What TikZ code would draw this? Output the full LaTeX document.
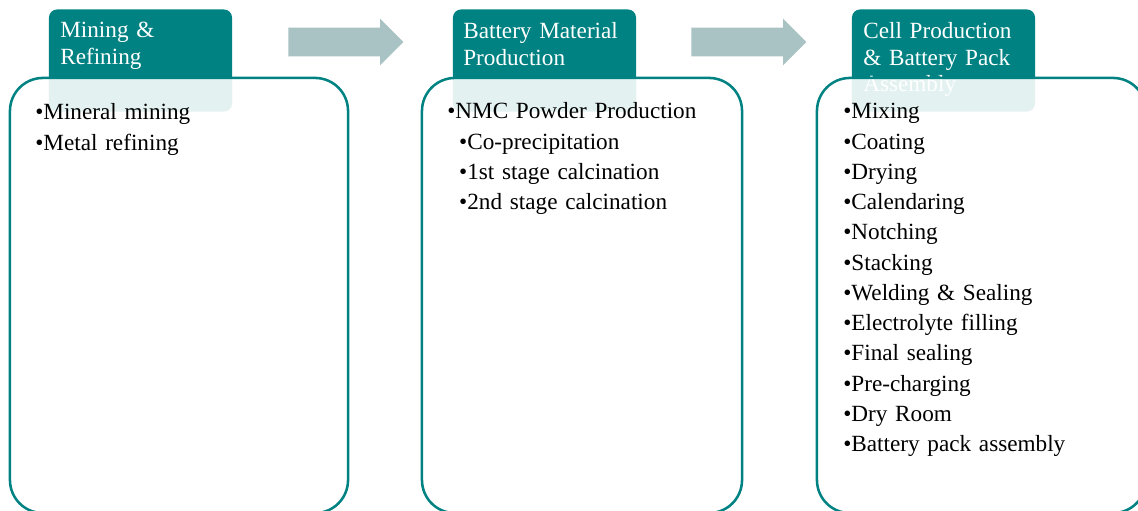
\documentclass[tikz,border=0pt]{standalone}
\usepackage{fontspec}
\setmainfont{Liberation Serif}
\usetikzlibrary{shapes.arrows}
\definecolor{stageD}{HTML}{008282}
\definecolor{flowC}{HTML}{A9C2C3}
\tikzset{
  tab/.style={rectangle, rounded corners=0.2cm, fill=stageD, minimum width=4.575cm, minimum height=2.55cm, inner sep=0pt},
  tabtxt/.style={anchor=base west, text width=4.2cm, align=left, inner sep=0pt, text=white,
                 font=\fontsize{16.5}{18.5}\selectfont},
  panel/.style={rectangle, rounded corners=0.825cm, draw=stageD, line width=1.8pt, fill=white,
                fill opacity=0.89, draw opacity=1, minimum height=10.875cm, inner sep=0pt},
  steps/.style={anchor=base west, text width=7.5cm, align=left, inner sep=0pt,
                font=\fontsize{16.5}{21.5}\selectfont},
  flow/.style={single arrow, fill=flowC, minimum height=2.875cm, inner xsep=0pt, inner ysep=0.35cm,
               single arrow head extend=0.225cm, single arrow tip angle=90, anchor=tail},
}
\newcommand\bul[1]{\textbullet#1}
\newcommand\sub{\hspace*{8.5pt}}

\begin{document}
\begin{tikzpicture}[x=0.025cm, y=-0.025cm]
\useasboundingbox (0,0) rectangle (1138,511);
% header tabs
\node[tab] (tab1) at (140.5,60.5) {};
\node[tab] (tab2) at (544.5,60.5) {};
\node[tab] (tab3) at (943.5,60.5) {};
\node[tabtxt] (tab1txt) at (60,38) {Mining \&\\Refining};
\node[tabtxt] (tab2txt) at (463,39) {Battery Material\\Production};
\node[tabtxt] (tab3txt) at (863,39) {Cell Production\\\& Battery Pack\\Assembly};
% stage panels
\node[panel, minimum width=8.45cm] (panel1) at (179,295.5) {};
\node[panel, minimum width=8cm] (panel2) at (582,295.5) {};
\node[panel, minimum width=8.225cm] (panel3) at (981.5,295.5) {};
\node[steps] (list1) at (35,120) {\bul{Mineral mining}\\\bul{Metal refining}};
\node[steps] (list2) at (447,119) {\bul{NMC Powder Production}\\\sub\bul{Co-precipitation}\\
  \sub\bul{1st stage calcination}\\\sub\bul{2nd stage calcination}};
\node[steps] (list3) at (843,119) {\bul{Mixing}\\\bul{Coating}\\\bul{Drying}\\\bul{Calendaring}\\
  \bul{Notching}\\\bul{Stacking}\\\bul{Welding \& Sealing}\\\bul{Electrolyte filling}\\
  \bul{Final sealing}\\\bul{Pre-charging}\\\bul{Dry Room}\\\bul{Battery pack assembly}};
% flow arrows
\node[flow] (flow1) at (288,42) {};
\node[flow] (flow2) at (691,42) {};
\end{tikzpicture}
\end{document}
